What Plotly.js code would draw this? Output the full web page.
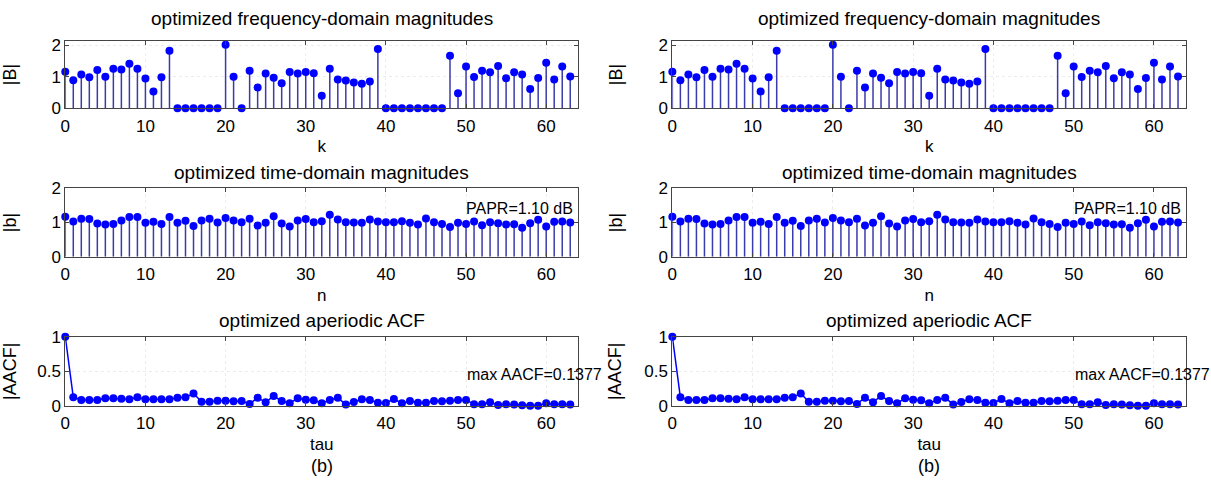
<!DOCTYPE html>
<html><head><meta charset="utf-8">
<script src="https://cdn.plot.ly/plotly-3.0.1.min.js"></script>
<style>html,body{margin:0;padding:0;background:#fff}#chart{width:1211px;height:482px}</style>
</head><body><div id="chart"></div>
<script>
// ---- data ----
const freqMag = [1.16,0.89,1.07,0.98,1.21,1.00,1.25,1.23,1.41,1.25,0.94,0.53,0.98,1.82,0,0,0,0,0,0,
  2.01,1.00,0,1.19,0.66,1.10,0.97,0.79,1.15,1.10,1.15,1.11,0.40,1.25,0.91,0.88,0.82,0.78,0.85,1.88,
  0,0,0,0,0,0,0,0,1.66,0.48,1.32,0.99,1.19,1.14,1.34,0.95,1.14,1.07,0.61,0.96,1.44,0.91,1.32,1.01];
const timeMag = [1.17,1.03,1.11,1.10,0.97,0.94,0.96,1.06,1.16,1.16,0.99,1.02,0.96,1.16,0.99,1.05,0.90,1.06,1.11,1.00,
  1.13,1.06,1.01,1.11,0.91,0.99,1.18,0.97,0.88,1.06,1.10,1.01,1.04,1.23,1.09,1.01,1.00,0.99,1.09,1.03,
  1.01,1.01,1.04,0.99,0.94,1.12,1.01,0.96,0.87,0.99,0.96,1.03,0.92,1.01,0.98,0.94,0.95,0.85,0.98,1.08,
  0.88,1.02,1.03,1.00];
const aacf = [1.00,0.125,0.087,0.087,0.087,0.11,0.11,0.106,0.096,0.125,0.096,0.096,0.096,0.096,0.12,0.125,0.18,0.06,0.06,0.077,
  0.077,0.067,0.072,0.03,0.12,0.053,0.144,0.072,0.04,0.11,0.09,0.082,0.04,0.087,0.12,0.02,0.058,0.096,0.087,0.048,
  0.043,0.10,0.04,0.072,0.048,0.048,0.072,0.067,0.077,0.087,0.087,0.024,0.024,0.053,0.014,0.024,0.02,0.01,0.005,0.005,
  0.04,0.024,0.024,0.02];
const idx = Array.from({length: 64}, (_, i) => i);
const panelTitles = ['optimized frequency-domain magnitudes', 'optimized time-domain magnitudes', 'optimized aperiodic ACF'];
const xLabels = ['k', 'n', 'tau'];
const yLabels = ['|B|', '|b|', '|AACF|'];
const xTicks = [0, 10, 20, 30, 40, 50, 60];
const yTicks = [[0, 1, 2], [0, 1, 2], [0, 0.5, 1]];
const yRanges = [[0, 2.14], [0, 2], [0, 1]];
const paprText = 'PAPR=1.10 dB';
const aacfText = 'max AACF=0.1377';
const panelLabel = '(b)';

// ---- layout geometry ----
const FONT = 'Liberation Sans, Arial, sans-serif';
const colDomains = [[0.0539, 0.4775], [0.5552, 0.9794]];
const rowDomains = [[0.7753, 0.9156], [0.4674, 0.6093], [0.1577, 0.3015]];
const titleY = [0.961, 0.643, 0.336];
const yTitleStandoff = [31, 31, 18];
const stemColor = '#3b3bab';
const dotColor = '#0000ff';

const traces = [];
const layout = {
  width: 1211, height: 482,
  margin: {l: 0, r: 0, t: 0, b: 0},
  paper_bgcolor: '#fff', plot_bgcolor: '#fff',
  showlegend: false,
  font: {family: FONT, size: 17, color: '#000'},
  annotations: []
};
const seriesList = [freqMag, timeMag, aacf];

for (let c = 0; c < 2; c++) {
  for (let r = 0; r < 3; r++) {
    const n = c * 3 + r + 1;
    const xa = 'x' + (n === 1 ? '' : n), ya = 'y' + (n === 1 ? '' : n);
    const vals = seriesList[r];
    if (r < 2) {
      traces.push({
        type: 'scatter', mode: 'markers', x: idx, y: vals, xaxis: xa, yaxis: ya,
        cliponaxis: false,
        marker: {color: dotColor, size: 8},
        error_y: {type: 'data', symmetric: false, array: vals.map(() => 0), arrayminus: vals,
                  width: 0, color: stemColor, thickness: 1.5}
      });
    } else {
      traces.push({
        type: 'scatter', mode: 'lines+markers', x: idx, y: vals, xaxis: xa, yaxis: ya,
        cliponaxis: false,
        line: {color: dotColor, width: 1.5},
        marker: {color: dotColor, size: 8}
      });
    }
    const axCommon = {
      showline: true, mirror: 'ticks', linecolor: '#444', linewidth: 1,
      ticks: 'inside', ticklen: 4, tickcolor: '#444',
      showgrid: true, gridcolor: '#ececec', griddash: 'dot', gridwidth: 1,
      zeroline: false, tickfont: {family: FONT, size: 17, color: '#000'}
    };
    layout['xaxis' + (n === 1 ? '' : n)] = Object.assign({}, axCommon, {
      domain: colDomains[c], anchor: ya, range: [0, 64],
      tickmode: 'array', tickvals: xTicks, ticklabelstandoff: 2,
      title: {text: xLabels[r], font: {family: FONT, size: 17}, standoff: 5}
    });
    layout['yaxis' + (n === 1 ? '' : n)] = Object.assign({}, axCommon, {
      domain: rowDomains[r], anchor: xa, range: yRanges[r],
      tickmode: 'array', tickvals: yTicks[r],
      title: {text: yLabels[r], font: {family: FONT, size: 18}, standoff: yTitleStandoff[r]}
    });
    layout.annotations.push({
      xref: 'paper', yref: 'paper', x: (colDomains[c][0] + colDomains[c][1]) / 2, y: titleY[r],
      text: panelTitles[r], showarrow: false, xanchor: 'center', yanchor: 'middle',
      font: {family: FONT, size: 19}
    });
    if (r === 1) {
      layout.annotations.push({xref: xa, yref: ya, x: 63.6, y: 1.4, text: paprText, showarrow: false,
        xanchor: 'right', yanchor: 'middle', font: {family: FONT, size: 16}});
    }
    if (r === 2) {
      layout.annotations.push({xref: xa, yref: ya, x: 49.9, y: 0.45, text: aacfText, showarrow: false,
        xanchor: 'left', yanchor: 'middle', font: {family: FONT, size: 16}});
    }
  }
  layout.annotations.push({
    xref: 'paper', yref: 'paper', x: (colDomains[c][0] + colDomains[c][1]) / 2, y: 0.033,
    text: panelLabel, showarrow: false, xanchor: 'center', yanchor: 'middle',
    font: {family: FONT, size: 18}
  });
}

Plotly.newPlot('chart', traces, layout, {staticPlot: true, displayModeBar: false});
</script>
</body></html>
